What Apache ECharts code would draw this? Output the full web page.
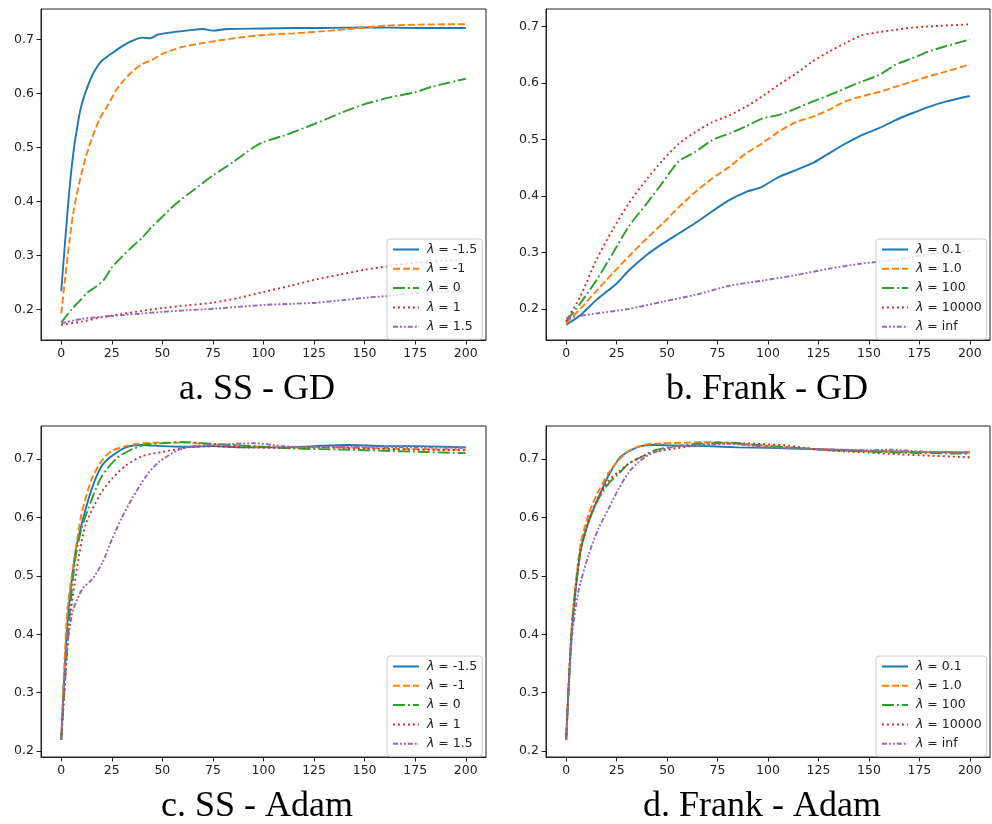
<!DOCTYPE html>
<html>
<head>
<meta charset="utf-8">
<title>SS / Frank - GD / Adam</title>
<script src="https://cdn.jsdelivr.net/npm/echarts@6/dist/echarts.min.js"></script>
<style>
  html, body { margin: 0; padding: 0; background: #fff; }
  #chart { width: 992px; height: 824px; }
</style>
</head>
<body>
<div id="chart"></div>
<script>
// tick labels
var xTicks = [0, 25, 50, 75, 100, 125, 150, 175, 200];
var yTicks = [0.2, 0.3, 0.4, 0.5, 0.6, 0.7];

// legend names
var ssNames = ['λ = -1.5', 'λ = -1', 'λ = 0', 'λ = 1', 'λ = 1.5'];
var frankNames = ['λ = 0.1', 'λ = 1.0', 'λ = 100', 'λ = 10000', 'λ = inf'];

// a. SS - GD
var ssGd_m15 = [[0,0.234],[2,0.33],[4,0.42],[6,0.49],[8,0.54],[10,0.578],[13,0.612],[16,0.638],[20,0.66],[25,0.674],[30,0.687],[35,0.697],[40,0.703],[44,0.702],[48,0.709],[55,0.713],[62,0.716],[70,0.719],[75,0.716],[82,0.719],[100,0.72],[115,0.721],[130,0.721],[150,0.722],[175,0.721],[190,0.721],[200,0.721]];
var ssGd_m1 = [[0,0.193],[2,0.26],[4,0.325],[6,0.38],[9,0.436],[12,0.48],[15,0.515],[19,0.553],[23,0.578],[27,0.605],[30,0.62],[35,0.64],[40,0.654],[45,0.662],[50,0.673],[55,0.68],[60,0.686],[70,0.693],[80,0.699],[90,0.704],[100,0.708],[115,0.711],[130,0.715],[145,0.72],[160,0.725],[175,0.727],[200,0.728]];
var ssGd_0 = [[0,0.176],[5,0.2],[9,0.216],[13,0.232],[17,0.242],[21,0.255],[25,0.278],[30,0.298],[35,0.316],[40,0.333],[45,0.354],[50,0.372],[57,0.397],[65,0.42],[75,0.448],[85,0.473],[95,0.5],[100,0.51],[110,0.522],[125,0.543],[139,0.565],[150,0.58],[163,0.593],[175,0.602],[183,0.612],[200,0.627]];
var ssGd_1 = [[0,0.172],[10,0.178],[20,0.186],[30,0.192],[40,0.198],[50,0.203],[62,0.208],[75,0.213],[88,0.222],[100,0.233],[113,0.244],[126,0.256],[138,0.265],[150,0.274],[163,0.281],[175,0.287],[188,0.29],[200,0.293]];
var ssGd_15 = [[0,0.175],[10,0.183],[20,0.187],[30,0.19],[40,0.193],[50,0.196],[62,0.199],[76,0.202],[90,0.206],[101,0.209],[115,0.211],[126,0.213],[140,0.218],[150,0.222],[163,0.226],[175,0.231],[200,0.234]];

// b. Frank - GD
var frGd_01 = [[0,0.172],[7,0.189],[15,0.216],[25,0.245],[31,0.268],[40,0.296],[48,0.316],[56,0.334],[64,0.352],[72,0.372],[81,0.393],[89,0.407],[97,0.416],[105,0.433],[114,0.446],[122,0.458],[130,0.475],[138,0.492],[146,0.507],[155,0.52],[163,0.534],[171,0.546],[179,0.557],[188,0.567],[200,0.577]];
var frGd_1 = [[0,0.175],[8,0.204],[15,0.232],[23,0.263],[31,0.293],[40,0.325],[48,0.352],[56,0.381],[64,0.407],[72,0.43],[81,0.452],[89,0.475],[97,0.493],[105,0.513],[114,0.531],[122,0.54],[130,0.552],[138,0.567],[146,0.576],[155,0.584],[163,0.593],[171,0.602],[179,0.611],[188,0.62],[200,0.633]];
var frGd_100 = [[0,0.178],[7,0.21],[15,0.251],[23,0.298],[31,0.346],[40,0.387],[48,0.425],[56,0.462],[64,0.478],[72,0.498],[81,0.511],[89,0.523],[97,0.537],[105,0.543],[114,0.555],[122,0.567],[130,0.578],[138,0.59],[146,0.602],[155,0.614],[163,0.632],[171,0.643],[179,0.655],[188,0.665],[200,0.677]];
var frGd_1e4 = [[0,0.178],[7,0.222],[15,0.287],[23,0.34],[31,0.387],[40,0.43],[48,0.464],[56,0.493],[64,0.513],[72,0.53],[81,0.543],[89,0.558],[97,0.576],[105,0.596],[114,0.617],[122,0.638],[130,0.655],[138,0.67],[146,0.684],[155,0.69],[163,0.694],[171,0.698],[179,0.7],[200,0.704]];
var frGd_inf = [[0,0.184],[15,0.192],[31,0.2],[48,0.213],[64,0.225],[81,0.241],[97,0.25],[114,0.26],[130,0.271],[146,0.28],[163,0.287],[179,0.296],[200,0.303]];

// c. SS - Adam
var ssAd_m15 = [[0,0.219],[3,0.416],[7,0.54],[10,0.587],[15,0.648],[20,0.688],[25,0.705],[32,0.72],[40,0.724],[50,0.722],[60,0.721],[75,0.722],[90,0.72],[110,0.72],[125,0.722],[142,0.724],[160,0.722],[175,0.722],[200,0.72]];
var ssAd_m1 = [[0,0.22],[3,0.44],[6.5,0.53],[10,0.605],[15,0.665],[20,0.697],[25,0.714],[32,0.722],[40,0.727],[50,0.728],[60,0.728],[75,0.725],[90,0.722],[110,0.72],[130,0.72],[150,0.719],[175,0.717],[200,0.716]];
var ssAd_0 = [[0,0.219],[4,0.427],[7,0.53],[10,0.58],[15,0.63],[20,0.67],[27,0.7],[34,0.715],[42,0.725],[50,0.727],[60,0.729],[75,0.726],[95,0.722],[115,0.718],[140,0.716],[160,0.714],[180,0.712],[200,0.71]];
var ssAd_1 = [[0,0.219],[4,0.416],[8,0.518],[12,0.587],[19,0.638],[25,0.666],[32,0.689],[40,0.705],[50,0.712],[63,0.72],[75,0.722],[90,0.72],[110,0.719],[130,0.72],[150,0.718],[175,0.716],[200,0.715]];
var ssAd_15 = [[0,0.219],[2.3,0.359],[5.6,0.438],[10.5,0.478],[15.5,0.495],[20.4,0.523],[25,0.562],[30,0.6],[35,0.632],[42,0.671],[48,0.694],[57,0.714],[65,0.722],[80,0.725],[95,0.727],[110,0.722],[125,0.72],[150,0.721],[175,0.72],[200,0.719]];

// d. Frank - Adam
var frAd_01 = [[0,0.219],[2.8,0.404],[7,0.541],[11,0.592],[15,0.626],[21,0.672],[26,0.7],[29,0.709],[37,0.722],[44,0.724],[55,0.723],[70,0.722],[85,0.72],[100,0.719],[125,0.717],[150,0.714],[175,0.712],[200,0.711]];
var frAd_1 = [[0,0.219],[2.8,0.416],[7,0.552],[11,0.604],[15,0.638],[21,0.676],[26,0.698],[31,0.714],[40,0.725],[60,0.728],[75,0.729],[90,0.724],[110,0.72],[130,0.716],[150,0.714],[175,0.712],[200,0.712]];
var frAd_100 = [[0,0.219],[2.8,0.41],[7,0.541],[11,0.592],[16,0.632],[21,0.658],[26,0.675],[31,0.692],[37,0.703],[44,0.715],[54,0.722],[65,0.726],[80,0.728],[95,0.724],[110,0.72],[130,0.715],[150,0.713],[165,0.711],[200,0.709]];
var frAd_1e4 = [[0,0.219],[2.8,0.41],[7,0.541],[11,0.592],[16,0.635],[21,0.663],[26,0.678],[31,0.692],[37,0.703],[44,0.712],[54,0.718],[66,0.724],[78,0.726],[90,0.727],[100,0.725],[110,0.723],[125,0.716],[145,0.712],[165,0.708],[200,0.703]];
var frAd_inf = [[0,0.219],[2.8,0.393],[6,0.472],[11,0.535],[16,0.581],[21,0.615],[26,0.649],[31,0.677],[36,0.695],[42,0.709],[52,0.72],[65,0.724],[80,0.726],[100,0.72],[125,0.717],[150,0.715],[160,0.716],[175,0.713],[200,0.711]];

var panels = [
  { caption: 'a. SS - GD',      names: ssNames,    lines: [ssGd_m15, ssGd_m1, ssGd_0, ssGd_1, ssGd_15],       yMin: 0.144, yMax: 0.756 },
  { caption: 'b. Frank - GD',   names: frankNames, lines: [frGd_01, frGd_1, frGd_100, frGd_1e4, frGd_inf],     yMin: 0.145, yMax: 0.731 },
  { caption: 'c. SS - Adam',    names: ssNames,    lines: [ssAd_m15, ssAd_m1, ssAd_0, ssAd_1, ssAd_15],       yMin: 0.190, yMax: 0.7565 },
  { caption: 'd. Frank - Adam', names: frankNames, lines: [frAd_01, frAd_1, frAd_100, frAd_1e4, frAd_inf],     yMin: 0.190, yMax: 0.7565 }
];

var colors = ['#1f77b4', '#ff7f0e', '#2ca02c', '#d62728', '#9467bd'];
var dashes = ['solid', [7, 3], [12, 3, 1.9, 3], [1.9, 3.1], [5, 2, 1.9, 2, 1.9, 2]];

// layout (px)
var boxes = [
  { left: 41,  top: 9,   width: 445, height: 331, capX: 257, capY: 390 },
  { left: 546, top: 9,   width: 444, height: 331, capX: 767, capY: 390 },
  { left: 41,  top: 426, width: 445, height: 331, capX: 257, capY: 807 },
  { left: 546, top: 426, width: 444, height: 331, capX: 762, capY: 807 }
];
var legendPos = [
  { left: 387, top: 239 },
  { left: 876, top: 239 },
  { left: 387, top: 656 },
  { left: 876, top: 656 }
];

var tickFont = { fontFamily: 'DejaVu Sans', fontSize: 12.5, color: '#222' };

var grids = [], xAxes = [], yAxes = [], series = [], legends = [], captions = [];

panels.forEach(function (p, i) {
  var b = boxes[i];
  grids.push({
    left: b.left, top: b.top, width: b.width, height: b.height,
    show: true, borderColor: '#222', borderWidth: 1, backgroundColor: 'transparent'
  });
  xAxes.push({
    type: 'value', gridIndex: i, min: -10, max: 210, position: 'bottom',
    splitLine: { show: false },
    axisLine: { show: true, onZero: false, lineStyle: { color: '#222', width: 1 } },
    axisTick: { show: true, length: 4.5, lineStyle: { color: '#222' }, customValues: xTicks },
    axisLabel: Object.assign({ margin: 7, customValues: xTicks, formatter: function (v) { return String(v); } }, tickFont)
  });
  yAxes.push({
    type: 'value', gridIndex: i, min: p.yMin, max: p.yMax, position: 'left',
    splitLine: { show: false },
    axisLine: { show: true, onZero: false, lineStyle: { color: '#222', width: 1 } },
    axisTick: { show: true, length: 4.5, lineStyle: { color: '#222' }, customValues: yTicks },
    axisLabel: Object.assign({ margin: 7, customValues: yTicks, formatter: function (v) { return v.toFixed(1); } }, tickFont)
  });
  p.lines.forEach(function (d, k) {
    series.push({
      type: 'line', name: p.names[k], xAxisIndex: i, yAxisIndex: i,
      data: d, symbol: 'none', smooth: 0.25,
      lineStyle: { color: colors[k], width: 1.9, type: dashes[k] },
      itemStyle: { color: colors[k] }
    });
  });
  legends.push({
    data: p.names, orient: 'vertical', left: legendPos[i].left, top: legendPos[i].top,
    padding: [4, 5, 6, 5], itemGap: 6.3, itemWidth: 26, itemHeight: 12,
    backgroundColor: 'rgba(255,255,255,0.8)', borderColor: '#cccccc', borderWidth: 1, borderRadius: 3,
    selectedMode: false, z: 20,
    itemStyle: { opacity: 0, borderWidth: 0 },
    formatter: function (n) { return '{i|λ}' + n.slice(1); },
    textStyle: {
      fontFamily: 'DejaVu Sans', fontSize: 12.5, color: '#222', padding: [0, 0, 0, 3],
      rich: { i: { fontFamily: 'DejaVu Sans', fontSize: 12.5, fontStyle: 'italic', color: '#222' } }
    }
  });
  captions.push({
    type: 'text', x: b.capX, y: b.capY, silent: true,
    style: {
      text: p.caption, fill: '#000', textAlign: 'center', textVerticalAlign: 'middle',
      font: '36px "Liberation Serif", serif'
    }
  });
});

var chart = echarts.init(document.getElementById('chart'), null, { renderer: 'canvas' });
chart.setOption({
  backgroundColor: '#fff',
  animation: false,
  grid: grids,
  xAxis: xAxes,
  yAxis: yAxes,
  legend: legends,
  graphic: captions,
  series: series
});
</script>
</body>
</html>
